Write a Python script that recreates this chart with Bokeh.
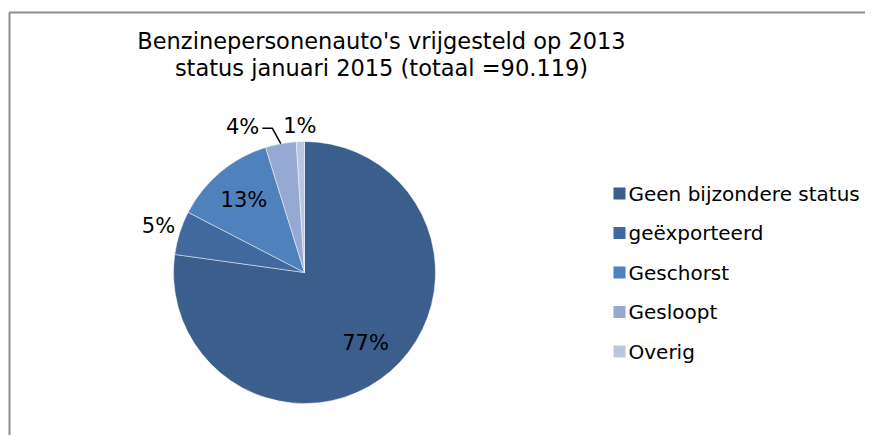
import numpy as np
from bokeh.plotting import figure
from bokeh.models import Range1d, ColumnDataSource
from bokeh.core.properties import value
from bokeh.embed import file_html
from bokeh.resources import INLINE

# ---- data ----
title_lines = ["Benzinepersonenauto's vrijgesteld op 2013",
               "status januari 2015 (totaal =90.119)"]
categories = ["Geen bijzondere status", "geëxporteerd", "Geschorst", "Gesloopt", "Overig"]
shares = [77.2, 5.4, 12.6, 3.8, 1.0]
pct_labels = ["77%", "5%", "13%", "4%", "1%"]

# ---- style ----
colors = ["#3B5E8C", "#4069A0", "#4F81BD", "#95A9D3", "#B9C6E3"]
FONT = "DejaVu Sans"
W, H = 865, 435


def Y(img_y):
    return H - img_y


cx, cy, R = 304, Y(272), 131
label_rf = [0.71, 1.17, 0.72, None, 1.12]

p = figure(width=W, height=H, output_backend="svg", toolbar_location=None,
           x_range=Range1d(0, W), y_range=Range1d(0, H), min_border=0)
p.axis.visible = False
p.grid.visible = False
p.outline_line_color = None
p.background_fill_color = "white"
p.border_fill_color = "white"

# chart border (left and top edges; the rest lies outside the picture)
p.line(x=[9, 9, W + 20], y=[-20, Y(12), Y(12)], line_color="#8C8C8C", line_width=2)

# pie
vals = np.array(shares, dtype=float)
frac = vals / vals.sum()
cum_end = np.cumsum(frac)
cum_start = cum_end - frac
start = np.pi / 2 - 2 * np.pi * cum_end
end = np.pi / 2 - 2 * np.pi * cum_start
src = ColumnDataSource(dict(start=start, end=end, color=colors, cat=categories))
p.wedge(x=cx, y=cy, radius=R, start_angle="start", end_angle="end",
        fill_color="color", line_color="white", line_width=0.8, line_alpha=0.6,
        source=src)

# percentage labels
mid = 2 * np.pi * (cum_start + cum_end) / 2  # clockwise from top
lx, ly, lt = [], [], []
for i, t in enumerate(pct_labels):
    rf = label_rf[i]
    if rf is None:
        # leader-line label
        ex = cx + R * np.sin(mid[i])
        ey = cy + R * np.cos(mid[i])
        elx, ely = ex - 8.5, ey + 15.5
        hx = elx - 10
        p.line(x=[ex, elx, hx], y=[ey, ely, ely], line_color="black", line_width=1.5)
        p.text(x=[hx - 3], y=[ely + 1], text=[t], text_align="right",
               text_baseline="middle", text_font=value(FONT),
               text_font_size="21px", text_color="black")
        continue
    lx.append(cx + rf * R * np.sin(mid[i]))
    ly.append(cy + rf * R * np.cos(mid[i]))
    lt.append(t)
p.text(x=lx, y=ly, text=lt, text_align="center", text_baseline="middle",
       text_font=value(FONT), text_font_size="21px", text_color="black")

# title
p.text(x=[381, 381], y=[Y(40), Y(67)], text=title_lines, text_align="center",
       text_baseline="middle", text_font=value(FONT), text_font_size="22.5px",
       text_color="black")

# legend
leg_y = [Y(193) - i * 39.5 for i in range(len(categories))]
p.scatter(x=[619] * len(categories), y=leg_y, marker="square", size=12,
          fill_color=colors, line_color=None)
p.text(x=[628] * len(categories), y=leg_y, text=categories, text_align="left",
       text_baseline="middle", text_font=value(FONT), text_font_size="20px",
       text_color="black")

open("out.html", "w").write(file_html(p, INLINE))
